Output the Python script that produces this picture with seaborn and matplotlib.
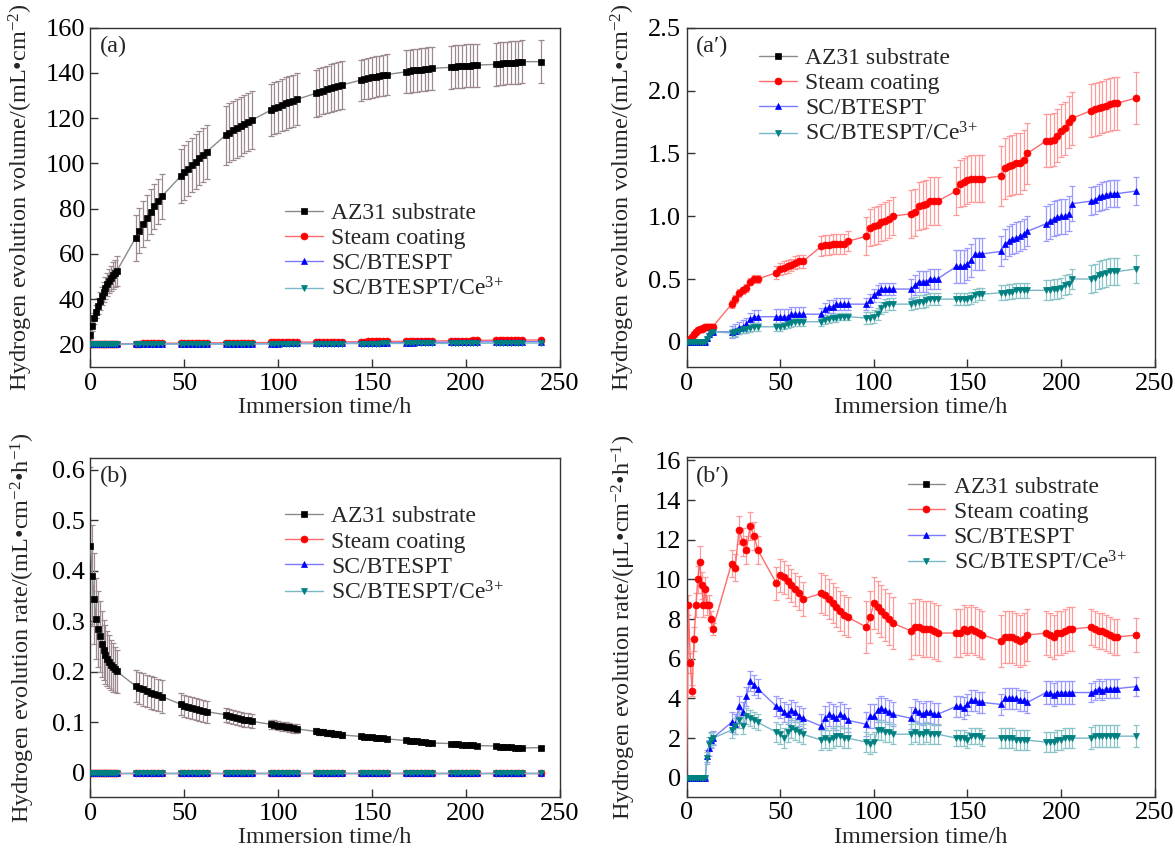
import matplotlib
matplotlib.use("Agg")
import matplotlib.pyplot as plt
from matplotlib.ticker import FuncFormatter, MultipleLocator
import seaborn as sns

# ─────────────────────────────────────────────
# Data
# hourly during the first day, then every 2 h inside each daily window
# ─────────────────────────────────────────────
time_h = [0, 1, 2, 3, 4, 5, 6, 7, 8, 9, 10, 11, 12, 13, 14,
          24, 26, 28, 30, 32, 34, 36, 38,
          48, 50, 52, 54, 56, 58, 60, 62,
          72, 74, 76, 78, 80, 82, 84, 86,
          96, 98, 100, 102, 104, 106, 108, 110,
          120, 122, 124, 126, 128, 130, 132, 134,
          144, 146, 148, 150, 152, 154, 156, 158,
          168, 170, 172, 174, 176, 178, 180, 182,
          192, 194, 196, 198, 200, 202, 204, 206,
          216, 218, 220, 222, 224, 226, 228, 230,
          240]

# panel (a): AZ31 substrate volume, mL/cm2
az31_vol = [24, 28, 31.5, 34.5, 37, 39.3, 41.3, 43.2, 45, 46.6, 48, 49.3, 50.5, 51.5, 52.4,
            67, 70.2, 73.2, 76, 78.6, 81, 83.3, 85.4,
            94.3, 96, 97.7, 99.3, 100.8, 102.3, 103.8, 105.2,
            112.5, 113.6, 114.6, 115.6, 116.5, 117.4, 118.3, 119.2,
            123.5, 124.3, 125.0, 125.8, 126.5, 127.1, 127.7, 128.3,
            131.0, 131.6, 132.2, 132.8, 133.3, 133.8, 134.2, 134.7,
            136.8, 137.3, 137.7, 138.1, 138.4, 138.7, 139.0, 139.3,
            140.5, 140.8, 141.1, 141.3, 141.5, 141.7, 141.8, 142.0,
            142.5, 142.7, 142.9, 143.0, 143.2, 143.3, 143.4, 143.5,
            143.8, 144.0, 144.2, 144.4, 144.5, 144.6, 144.8, 145.0,
            145.0]
az31_vol_err = [1.5, 2, 2.5, 3, 3.5, 4, 4, 4.5, 5, 5, 5.5, 5.5, 6, 6, 6.5,
                *[10] * 8, *[12] * 8, *[13] * 8, *[11.5] * 8, *[10.5] * 8,
                *[9] * 8, *[9.5] * 8, *[9.5] * 8, *[9.5] * 8, 9.5]

# panel (a'): coated samples, volume mL/cm2
steam_vol = [0, 0.01, 0.02, 0.04, 0.06, 0.08, 0.095, 0.10, 0.10, 0.11, 0.12, 0.12, 0.12, 0.12, 0.12,
             0.30, 0.34, 0.39, 0.41, 0.43, 0.48, 0.50, 0.50,
             0.55, 0.58, 0.59, 0.60, 0.61, 0.63, 0.64, 0.64,
             0.76, 0.77, 0.77, 0.78, 0.78, 0.78, 0.78, 0.80,
             0.84, 0.91, 0.92, 0.93, 0.95, 0.96, 0.98, 1.00,
             1.02, 1.03, 1.08, 1.09, 1.10, 1.12, 1.12, 1.12,
             1.20, 1.26, 1.27, 1.29, 1.30, 1.30, 1.30, 1.30,
             1.32, 1.38, 1.40, 1.41, 1.42, 1.42, 1.45, 1.50,
             1.60, 1.60, 1.61, 1.64, 1.68, 1.70, 1.75, 1.78,
             1.84, 1.85, 1.86, 1.87, 1.88, 1.89, 1.90, 1.90,
             1.94]
steam_vol_err = [*[0.02] * 15, *[0.03] * 8, *[0.05] * 8, *[0.08] * 8, *[0.15] * 8,
                 *[0.19] * 8, *[0.19] * 8, *[0.24] * 8, *[0.21] * 8, *[0.21] * 8, 0.21]

bt_vol = [0, 0, 0, 0, 0, 0, 0, 0, 0, 0, 0, 0.03, 0.06, 0.08, 0.08,
          0.08, 0.09, 0.11, 0.12, 0.14, 0.18, 0.20, 0.20,
          0.20, 0.20, 0.20, 0.20, 0.22, 0.22, 0.22, 0.22,
          0.22, 0.26, 0.28, 0.28, 0.30, 0.30, 0.30, 0.30,
          0.30, 0.33, 0.37, 0.40, 0.42, 0.42, 0.42, 0.42,
          0.42, 0.45, 0.48, 0.48, 0.48, 0.50, 0.50, 0.50,
          0.60, 0.60, 0.60, 0.62, 0.65, 0.70, 0.70, 0.70,
          0.72, 0.78, 0.80, 0.82, 0.83, 0.84, 0.86, 0.88,
          0.94, 0.96, 0.98, 0.99, 1.00, 1.00, 1.02, 1.10,
          1.12, 1.13, 1.15, 1.16, 1.17, 1.18, 1.18, 1.18,
          1.20]
bt_vol_err = [*[0.01] * 15, *[0.05] * 8, *[0.06] * 8, *[0.05] * 8, *[0.05] * 8,
              *[0.08] * 8, *[0.13] * 8, *[0.12] * 8, *[0.14] * 8, *[0.11] * 8, 0.11]

ce_vol = [0, 0, 0, 0, 0, 0, 0, 0, 0, 0, 0, 0.02, 0.05, 0.07, 0.08,
          0.07, 0.08, 0.09, 0.10, 0.10, 0.11, 0.12, 0.12,
          0.12, 0.12, 0.13, 0.14, 0.15, 0.16, 0.16, 0.16,
          0.16, 0.17, 0.18, 0.19, 0.19, 0.20, 0.20, 0.20,
          0.19, 0.19, 0.20, 0.22, 0.27, 0.29, 0.30, 0.30,
          0.30, 0.31, 0.32, 0.32, 0.33, 0.34, 0.34, 0.34,
          0.34, 0.34, 0.34, 0.34, 0.35, 0.37, 0.38, 0.38,
          0.39, 0.39, 0.40, 0.40, 0.41, 0.41, 0.41, 0.41,
          0.41, 0.41, 0.42, 0.42, 0.43, 0.45, 0.46, 0.50,
          0.50, 0.51, 0.53, 0.54, 0.55, 0.56, 0.56, 0.56,
          0.58]
ce_vol_err = [*[0.01] * 15, *[0.03] * 8, *[0.03] * 8, *[0.03] * 8, *[0.05] * 8,
              *[0.05] * 8, *[0.05] * 8, *[0.06] * 8, *[0.08] * 8, *[0.11] * 8, 0.11]

# panel (b): AZ31 substrate rate, mL/(cm2 h)
az31_rate = [0.45, 0.39, 0.345, 0.305, 0.285, 0.27, 0.255, 0.243, 0.234, 0.226, 0.22, 0.214, 0.209, 0.205, 0.201,
             0.172, 0.168, 0.165, 0.162, 0.159, 0.157, 0.154, 0.151,
             0.136, 0.133, 0.131, 0.129, 0.127, 0.125, 0.123, 0.121,
             0.115, 0.113, 0.111, 0.109, 0.107, 0.105, 0.104, 0.102,
             0.096, 0.095, 0.093, 0.092, 0.091, 0.090, 0.088, 0.087,
             0.082, 0.081, 0.080, 0.079, 0.078, 0.077, 0.076, 0.075,
             0.072, 0.071, 0.070, 0.070, 0.069, 0.068, 0.068, 0.067,
             0.064, 0.063, 0.063, 0.062, 0.061, 0.061, 0.060, 0.059,
             0.058, 0.057, 0.057, 0.056, 0.056, 0.055, 0.055, 0.054,
             0.053, 0.052, 0.052, 0.051, 0.051, 0.050, 0.050, 0.049,
             0.050]
az31_rate_err = [0.155, 0.10, 0.09, 0.08, 0.075, 0.07, 0.065, 0.06, 0.058, 0.055, 0.052, 0.05, 0.048, 0.045, 0.043,
                 *[0.032] * 8, *[0.022] * 8, *[0.014] * 8, *[0.009] * 8, *[0.006] * 8,
                 *[0.004] * 8, *[0.003] * 8, *[0.002] * 8, *[0.002] * 8, 0.002]

# coated samples in panel (b): all read as 0 at that scale
coated_rate_b = [0.0] * len(time_h)

# panel (b'): coated samples, rate uL/(cm2 h)
steam_rate = [0, 8.7, 5.8, 4.4, 7.0, 8.7, 10.0, 10.9, 9.7, 8.7, 9.5, 8.7, 8.7, 8.0, 7.5,
              10.8, 10.6, 12.5, 11.9, 11.5, 12.7, 12.2, 11.5,
              9.8, 10.2, 10.1, 9.9, 9.7, 9.5, 9.3, 9.0,
              9.3, 9.2, 9.0, 8.8, 8.6, 8.4, 8.2, 8.1,
              7.6, 8.1, 8.8, 8.6, 8.4, 8.2, 8.0, 7.8,
              7.4, 7.6, 7.6, 7.5, 7.5, 7.5, 7.4, 7.3,
              7.3, 7.3, 7.5, 7.4, 7.5, 7.4, 7.3, 7.2,
              6.9, 7.1, 7.1, 7.1, 7.0, 6.9, 7.0, 7.2,
              7.3, 7.2, 7.1, 7.3, 7.3, 7.4, 7.5, 7.5,
              7.6, 7.5, 7.4, 7.4, 7.3, 7.2, 7.1, 7.1,
              7.2]
steam_rate_err = [0, 0.5, 0.5, 0.3, 0.6, 0.6, 0.7, 0.8, 0.7, 0.6, 0.6, 0.5, 0.5, 0.4, 0.3,
                  *[0.7] * 8, *[0.85] * 8, *[1.0] * 8, *[1.3] * 8, *[1.4] * 8,
                  *[1.2] * 8, *[1.3] * 8, *[1.1] * 8, *[0.9] * 8, 0.85]

bt_rate = [0, 0, 0, 0, 0, 0, 0, 0, 0, 0, 0, 1.1, 1.5, 1.9, 2.0,
           2.8, 2.7, 3.6, 3.3, 4.1, 4.9, 4.7, 4.5,
           3.6, 3.5, 3.3, 3.2, 3.4, 3.3, 3.1, 3.0,
           2.6, 3.0, 3.2, 3.1, 3.0, 3.2, 3.1, 2.9,
           2.7, 3.1, 3.1, 3.4, 3.5, 3.4, 3.3, 3.2,
           3.0, 3.4, 3.3, 3.2, 3.3, 3.3, 3.2, 3.2,
           3.6, 3.6, 3.5, 3.7, 3.9, 3.9, 3.8, 3.8,
           3.7, 4.0, 4.0, 4.0, 4.0, 3.9, 3.9, 3.8,
           4.3, 4.3, 4.2, 4.3, 4.3, 4.3, 4.3, 4.3,
           4.3, 4.4, 4.5, 4.4, 4.5, 4.5, 4.5, 4.5,
           4.6]
bt_rate_err = [*[0.05] * 11, 0.3, 0.4, 0.4, 0.35,
               *[0.5] * 8, *[0.5] * 8, *[0.6] * 8, *[0.6] * 8, *[0.55] * 8,
               *[0.55] * 8, *[0.55] * 8, *[0.6] * 8, *[0.5] * 8, 0.5]

ce_rate = [0, 0, 0, 0, 0, 0, 0, 0, 0, 0, 0, 1.0, 1.7, 1.9, 2.0,
           2.4, 2.6, 2.9, 2.6, 3.1, 3.0, 2.9, 2.8,
           2.3, 2.2, 2.0, 2.3, 2.5, 2.4, 2.3, 2.2,
           1.9, 2.0, 1.9, 2.0, 2.1, 2.1, 2.0, 2.0,
           1.8, 1.7, 1.8, 2.4, 2.4, 2.3, 2.3, 2.2,
           2.2, 2.3, 2.2, 2.2, 2.3, 2.2, 2.2, 2.2,
           2.0, 2.0, 2.0, 1.9, 2.1, 2.1, 2.1, 2.0,
           2.0, 2.0, 2.0, 2.0, 1.9, 1.9, 1.9, 1.9,
           1.8, 1.8, 1.8, 1.9, 1.9, 2.0, 2.0, 2.0,
           2.0, 2.1, 2.1, 2.1, 2.1, 2.1, 2.1, 2.1,
           2.1]
ce_rate_err = [*[0.05] * 11, 0.3, 0.35, 0.35, 0.3,
               *[0.4] * 8, *[0.5] * 8, *[0.5] * 8, *[0.5] * 8, *[0.5] * 8,
               *[0.4] * 8, *[0.5] * 8, *[0.5] * 8, *[0.55] * 8, 0.55]

# the bare substrate only shows its t = 0 point in the zoomed panels
az31_zoom_t = [0]
az31_zoom_v = [0]

VOL_BASE = 20     # panel (a) draws the coated curves on the 20 mL baseline

NAMES = ["AZ31 substrate", "Steam coating", "SC/BTESPT", "SC/BTESPT/Ce$^{3{+}}$"]
STYLE = {
    NAMES[0]: dict(marker="s", face="#000000", line="#8a8a8a", err="#9c8a90", ms=5),
    NAMES[1]: dict(marker="o", face="#ff0000", line="#ff6a6a", err="#ff9a9a", ms=5),
    NAMES[2]: dict(marker="^", face="#0000ff", line="#7a7aff", err="#9a9aff", ms=5),
    NAMES[3]: dict(marker="v", face="#008080", line="#7ab8c8", err="#8cc4c8", ms=5),
}

# ─────────────────────────────────────────────
# Style
# ─────────────────────────────────────────────
sns.set_theme(style="ticks")
plt.rcParams.update({
    "font.family": ["Liberation Serif", "DejaVu Serif"],
    "mathtext.fontset": "custom",
    "mathtext.rm": "Liberation Serif",
    "mathtext.default": "regular",
    "font.size": 17,
    "axes.edgecolor": "#333333",
    "axes.linewidth": 1.0,
    "xtick.direction": "in",
    "ytick.direction": "in",
    "xtick.major.size": 6,
    "ytick.major.size": 6,
    "xtick.major.width": 1.0,
    "ytick.major.width": 1.0,
    "xtick.color": "#333333",
    "ytick.color": "#333333",
    "xtick.labelcolor": "black",
    "ytick.labelcolor": "black",
})


def draw(ax, name, t, y, err=None):
    st = STYLE[name]
    if err is not None:
        ax.errorbar(t, y, yerr=err, fmt="none", ecolor=st["err"],
                    elinewidth=0.9, capsize=2.5, capthick=0.9, zorder=1)
    sns.lineplot(x=t, y=y, ax=ax, color=st["line"], lw=1.0,
                 marker=st["marker"], markersize=st["ms"],
                 markerfacecolor=st["face"], markeredgecolor=st["face"],
                 markeredgewidth=0.5, label=name, estimator=None,
                 sort=False, zorder=3)


def zero_fmt(v, _):
    return "0" if abs(v) < 1e-9 else f"{v:.1f}"


def finish(ax, ylim, ystep, ylabel, label_x, tag, leg_xy, fmt=None):
    ax.set_xlim(0, 250)
    ax.set_ylim(*ylim)
    ax.xaxis.set_major_locator(MultipleLocator(50))
    ax.yaxis.set_major_locator(MultipleLocator(ystep))
    if fmt is not None:
        ax.yaxis.set_major_formatter(FuncFormatter(fmt))
    ax.tick_params(top=False, right=False, labelsize=19, pad=4)
    ax.set_xlabel("Immersion time/h", fontsize=17.5, labelpad=2)
    ax.set_ylabel(ylabel, fontsize=17.5)
    ax.yaxis.set_label_coords(label_x, 0.5)
    ax.text(0.02, 0.975, tag, transform=ax.transAxes, ha="left", va="top", fontsize=17.5)
    ax.legend(loc="upper left", bbox_to_anchor=leg_xy, frameon=False, fontsize=17,
              handlelength=1.6, handletextpad=0.35, labelspacing=0.15,
              borderpad=0, borderaxespad=0)


fig = plt.figure(figsize=(11.75, 8.56), dpi=100)
ax_a = fig.add_axes([0.077, 0.5713, 0.3993, 0.3963])
ax_a2 = fig.add_axes([0.5843, 0.5713, 0.3985, 0.3963])
ax_b = fig.add_axes([0.077, 0.0689, 0.3993, 0.3963])
ax_b2 = fig.add_axes([0.5843, 0.0693, 0.3985, 0.3963])

# (a) cumulative volume
draw(ax_a, NAMES[0], time_h, az31_vol, az31_vol_err)
for name, vals, errs in zip(NAMES[1:], [steam_vol, bt_vol, ce_vol],
                            [steam_vol_err, bt_vol_err, ce_vol_err]):
    draw(ax_a, name, time_h, [v + VOL_BASE for v in vals], errs)
finish(ax_a, (10, 160), 20, "Hydrogen evolution volume/(mL•cm$^{-2}$)", -0.118,
       "(a)", (0.415, 0.485))

# (a') zoom on coated samples
draw(ax_a2, NAMES[0], az31_zoom_t, az31_zoom_v)
for name, vals, errs in zip(NAMES[1:], [steam_vol, bt_vol, ce_vol],
                            [steam_vol_err, bt_vol_err, ce_vol_err]):
    draw(ax_a2, name, time_h, vals, errs)
finish(ax_a2, (-0.2, 2.5), 0.5, "Hydrogen evolution volume/(mL•cm$^{-2}$)", -0.105,
       "(a\u2032)", (0.155, 0.942), zero_fmt)

# (b) evolution rate
draw(ax_b, NAMES[0], time_h, az31_rate, az31_rate_err)
for name in NAMES[1:]:
    draw(ax_b, name, time_h, coated_rate_b)
finish(ax_b, (-0.048, 0.624), 0.1, "Hydrogen evolution rate/(mL•cm$^{-2}$•h$^{-1}$)", -0.114,
       "(b)", (0.415, 0.858), zero_fmt)

# (b') zoom on coated samples
draw(ax_b2, NAMES[0], az31_zoom_t, az31_zoom_v)
for name, vals, errs in zip(NAMES[1:], [steam_rate, bt_rate, ce_rate],
                            [steam_rate_err, bt_rate_err, ce_rate_err]):
    draw(ax_b2, name, time_h, vals, errs)
finish(ax_b2, (-0.95, 16.15), 2, "Hydrogen evolution rate/(\u03bcL•cm$^{-2}$•h$^{-1}$)", -0.103,
       "(b\u2032)", (0.472, 0.945))

fig.savefig("out.png", dpi=100)
